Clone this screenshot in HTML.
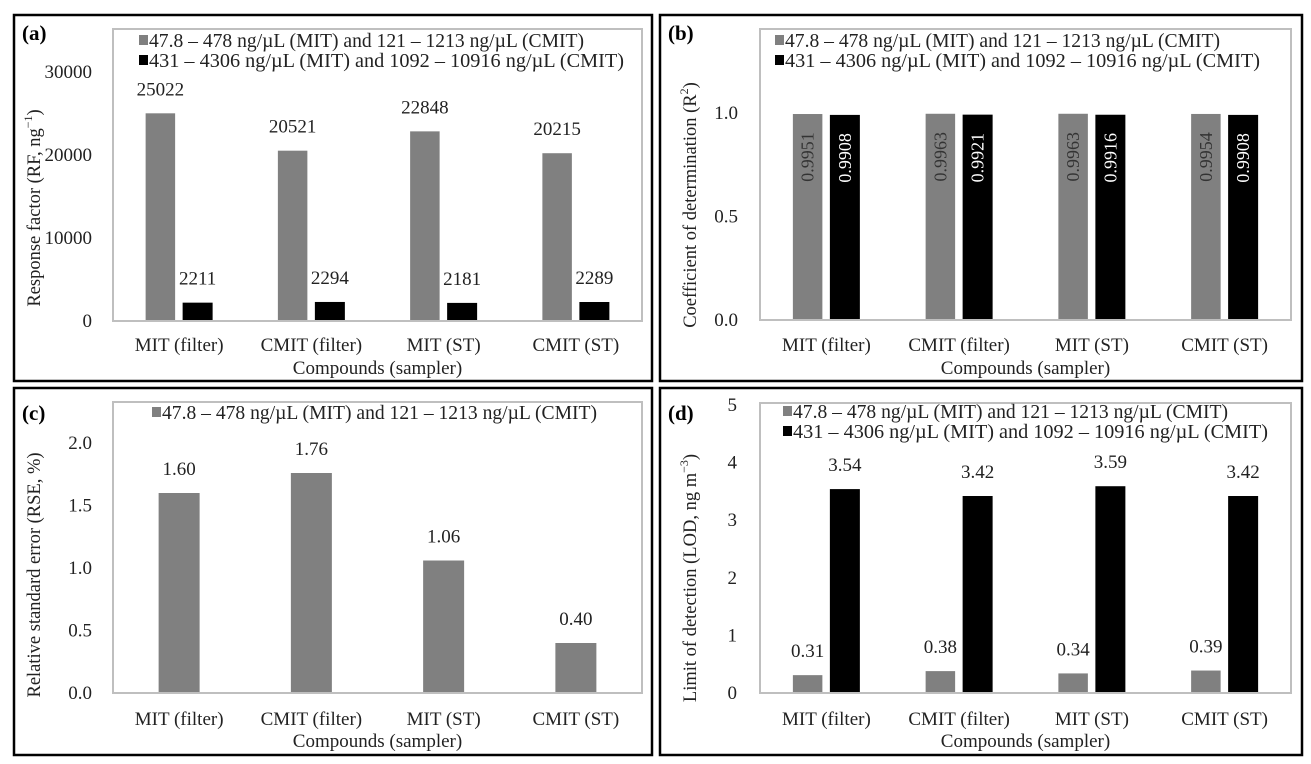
<!DOCTYPE html>
<html><head><meta charset="utf-8"><style>
body{margin:0;background:#fff}
svg{display:block;font-family:"Liberation Serif",serif}
</style></head><body>
<svg id="fig" width="1311" height="764" viewBox="0 0 1311 764"></svg>
<script>
const categories=["MIT (filter)","CMIT (filter)","MIT (ST)","CMIT (ST)"];
const legendLow="47.8 – 478 ng/µL (MIT) and 121 – 1213 ng/µL (CMIT)";
const legendHigh="431 – 4306 ng/µL (MIT) and 1092 – 10916 ng/µL (CMIT)";
const rfLow=[25022,20521,22848,20215];
const rfHigh=[2211,2294,2181,2289];
const rfTicks=[0,10000,20000,30000];
const r2Low=[0.9951,0.9963,0.9963,0.9954];
const r2High=[0.9908,0.9921,0.9916,0.9908];
const r2Ticks=[0,0.5,1.0];
const rseLow=[1.60,1.76,1.06,0.40];
const rseTicks=[0,0.5,1.0,1.5,2.0];
const lodLow=[0.31,0.38,0.34,0.39];
const lodHigh=[3.54,3.42,3.59,3.42];
const lodTicks=[0,1,2,3,4,5];

const NS="http://www.w3.org/2000/svg";
const svg=document.getElementById('fig');
function el(tag,attrs,parent,text){const e=document.createElementNS(NS,tag);for(const k in attrs)e.setAttribute(k,attrs[k]);if(text!==undefined)e.textContent=text;(parent||svg).appendChild(e);return e;}

const panels=[
 {id:'a',ox:14,oy:15,ow:638,oh:366,bx:113,bt:29,br:642,by:321,lbl:[22,40],
  yMax:30000,ticks:rfTicks,tickFmt:v=>String(v),tickX:92,
  low:rfLow,high:rfHigh,fmt:v=>String(v),
  leg:[[139,47,legendLow,435],[139,67,legendHigh,475]],
  ytitle:'Response factor (RF, ng',ysup:'−1',ytEnd:')',ytx:35,yty:208,catY:351,titY:374,mode:'pair'},
 {id:'b',ox:660,oy:15,ow:642,oh:366,bx:760,bt:29,br:1291,by:320,lbl:[668,40],
  yMax:1.0,yTop:113,ticks:r2Ticks,tickFmt:v=>v.toFixed(1),tickX:738,
  low:r2Low,high:r2High,fmt:v=>v.toFixed(4),
  leg:[[775,47,legendLow,435],[775,67,legendHigh,475]],
  ytitle:'Coefficient of determination (R',ysup:'2',ytEnd:')',ytx:691,yty:205,catY:351,titY:374,mode:'inside'},
 {id:'c',ox:14,oy:388,ow:638,oh:367,bx:113,bt:402,br:642,by:693,lbl:[22,420],
  yMax:2.0,yTop:443,ticks:rseTicks,tickFmt:v=>v.toFixed(1),tickX:92,
  low:rseLow,high:null,fmt:v=>v.toFixed(2),
  leg:[[152,419,legendLow,435]],
  ytitle:'Relative standard error (RSE, %)',ysup:'',ytEnd:'',ytx:35,yty:575,catY:725,titY:747,mode:'single'},
 {id:'d',ox:660,oy:388,ow:642,oh:367,bx:760,bt:403,br:1291,by:693,lbl:[668,420],
  yMax:5,yTop:405,ticks:lodTicks,tickFmt:v=>String(v),tickX:737,
  low:lodLow,high:lodHigh,fmt:v=>v.toFixed(2),
  leg:[[783,418,legendLow,435],[783,438,legendHigh,475]],
  ytitle:'Limit of detection (LOD, ng m',ysup:'−3',ytEnd:')',ytx:691,yty:578,catY:725,titY:747,mode:'pair'}
];
panels[0].yTop=72;

panels.forEach(p=>{
  const g=el('g',{});
  
  
  const ob=el('rect',{x:p.ox,y:p.oy,width:p.ow,height:p.oh,fill:'none',stroke:'#000','stroke-width':2.5},g);
  
  
  const pb=el('rect',{x:p.bx,y:p.bt,width:p.br-p.bx,height:p.by-p.bt,fill:'#fff',stroke:'#bfbfbf','stroke-width':2},g);
  
  
  const pl=el('text',{x:p.lbl[0],y:p.lbl[1],'font-size':21,'font-weight':'bold'},g,'('+p.id+')');
  
  
  const yScale=v=>p.by-(v/p.yMax)*(p.by-p.yTop);
  p.ticks.forEach(t=>{
    const tt=el('text',{x:p.tickX,y:yScale(t)+6,'font-size':19,'text-anchor':'end',fill:'#222'},g,p.tickFmt(t));
    
    
  });
  const gw=(p.br-p.bx)/categories.length;
  const xc=i=>p.bx+gw*(i+0.5);
  categories.forEach((c,i)=>{
    const ct=el('text',{x:xc(i),y:p.catY,'font-size':19,'text-anchor':'middle',fill:'#222'},g,c);
    
    
    const bars=[];
    if(p.mode==='single'){
      bars.push([xc(i)-20.5,41,p.low[i],'#808080','#222']);
    } else {
      bars.push([xc(i)-33.5,29.5,p.low[i],'#808080','#333']);
      bars.push([xc(i)+3.5,30,p.high[i],'#000','#fff']);
    }
    bars.forEach((b,j)=>{
      const top=yScale(b[2]);
      const r=el('rect',{x:b[0],y:top,width:b[1],height:p.by-1-top,fill:b[3]},g);
      
      
      const cx=b[0]+b[1]/2;
      if(p.mode==='inside'){
        const cy=top+43;
        const vt=el('text',{x:cx,y:cy,'font-size':18,'text-anchor':'middle','dominant-baseline':'central',fill:b[4],transform:`rotate(-90 ${cx} ${cy})`},g,p.fmt(b[2]));
        
        
      } else {
        const vt=el('text',{x:cx,y:top-18,'font-size':19,'text-anchor':'middle',fill:'#222'},g,p.fmt(b[2]));
        
        
      }
    });
  });
  p.leg.forEach((L,k)=>{
    const m=el('rect',{x:L[0],y:L[1]-12,width:9,height:10,fill:k===0?'#808080':'#000'},g);
    
    
    const lt=el('text',{x:L[0]+10,y:L[1],'font-size':19.5,textLength:L[3],lengthAdjust:'spacingAndGlyphs',fill:'#222'},g,L[2]);
    
    
  });
  const xt=el('text',{x:(p.bx+p.br)/2,y:p.titY,'font-size':19,'text-anchor':'middle',fill:'#222'},g,'Compounds (sampler)');
  
  
  const yt=el('text',{x:p.ytx,y:p.yty,'font-size':18.5,'text-anchor':'middle','dominant-baseline':'central',fill:'#222',transform:`rotate(-90 ${p.ytx} ${p.yty})`},g);
  
  
  el('tspan',{},yt,p.ytitle);
  if(p.ysup){el('tspan',{'baseline-shift':'super','font-size':12},yt,p.ysup);}
  if(p.ytEnd){el('tspan',{},yt,p.ytEnd);}
});
</script>
</body></html>
